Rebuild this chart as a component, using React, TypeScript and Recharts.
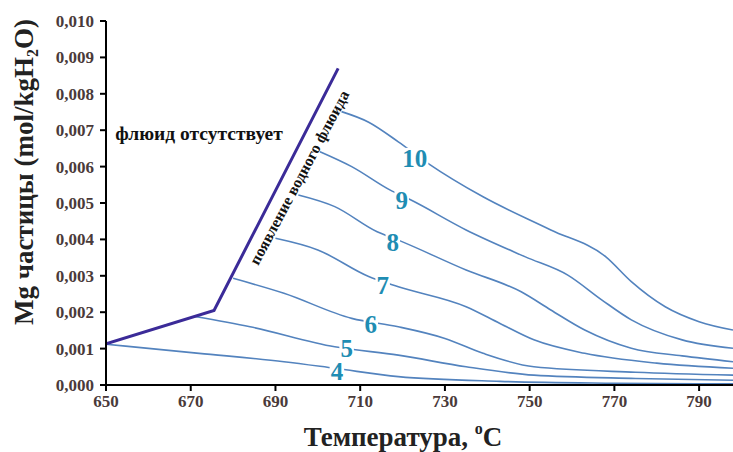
import React from 'react';
import { LineChart, Line, XAxis, YAxis, ReferenceDot } from 'recharts';

// boundary: fluid appears
const boundaryT = [650, 675.5, 704.8];
const boundaryV = [0.00113, 0.00205, 0.0087];

const curve4T = [650, 672, 692, 704, 719, 743, 770, 798];
const curve4V = [0.00112, 0.00087, 0.00064, 0.00046, 0.00023, 0.0001, 0.00005, 0.00003];
const curve5T = [671, 684, 704, 719, 735, 751, 775, 798];
const curve5V = [0.00188, 0.0016, 0.00105, 0.00082, 0.0005, 0.00027, 0.00018, 0.00013];
const curve6T = [680, 692, 708, 719, 730, 739, 751, 775, 798];
const curve6V = [0.00293, 0.00252, 0.00183, 0.0016, 0.00128, 0.00087, 0.0005, 0.00035, 0.00027];
const curve7T = [690, 700, 712, 719, 735, 743, 751, 763, 780, 798];
const curve7V = [0.00403, 0.00371, 0.00298, 0.0027, 0.00215, 0.00169, 0.00124, 0.00087, 0.0006, 0.00046];
const curve8T = [695.4, 704, 714, 719, 735, 748, 755, 763, 774, 786, 798];
const curve8V = [0.00522, 0.0049, 0.00421, 0.00398, 0.00316, 0.00256, 0.00206, 0.00151, 0.00101, 0.0008, 0.00064];
const curve9T = [700.5, 708, 717, 722, 735, 749, 759, 767, 774, 786, 798];
const curve9V = [0.00641, 0.006, 0.00536, 0.00508, 0.00426, 0.00352, 0.00302, 0.00234, 0.00179, 0.00124, 0.00101];
const curve10T = [705.6, 712, 719, 726, 739, 755, 768, 774, 782, 790, 798];
const curve10V = [0.00751, 0.00722, 0.00668, 0.00609, 0.00517, 0.00426, 0.00352, 0.00284, 0.00215, 0.00174, 0.00151];

const labelText = ['10', '9', '8', '7', '6', '5', '4'];
const labelT = [722.9, 719.8, 717.7, 715.3, 712.5, 706.8, 704.5];
const labelV = [0.00624, 0.00508, 0.00394, 0.00275, 0.00168, 0.00102, 0.00038];

const xTicks = [650, 670, 690, 710, 730, 750, 770, 790];
const yTicks = [0, 0.001, 0.002, 0.003, 0.004, 0.005, 0.006, 0.007, 0.008, 0.009, 0.01];

const zip = (t: number[], v: number[]) => t.map((x, i) => ({ t: x, v: v[i] }));

const curves = [
  zip(curve4T, curve4V),
  zip(curve5T, curve5V),
  zip(curve6T, curve6V),
  zip(curve7T, curve7V),
  zip(curve8T, curve8V),
  zip(curve9T, curve9V),
  zip(curve10T, curve10V),
];

const serif = '"Liberation Serif", "DejaVu Serif", serif';
const tickStyle = { fontFamily: serif, fontWeight: 700, fontSize: 17, fill: '#4a3a3a' };

export default function App() {
  return (
    <div style={{ position: 'absolute', left: 0, top: 0, width: 733, height: 452, background: '#fff' }}>
      <LineChart width={733} height={452} margin={{ top: 21, right: 0, bottom: 0, left: 0 }}>
        <XAxis
          type='number'
          dataKey='t'
          domain={[650, 798]}
          ticks={xTicks}
          allowDataOverflow
          height={67}
          tickSize={6}
          tickMargin={4}
          tick={tickStyle}
          axisLine={{ stroke: '#000', strokeWidth: 2 }}
          tickLine={{ stroke: '#000', strokeWidth: 2 }}
        />
        <YAxis
          type='number'
          dataKey='v'
          domain={[0, 0.01]}
          ticks={yTicks}
          width={106}
          tickSize={6}
          tickMargin={6}
          tick={tickStyle}
          tickFormatter={(v: number) => v.toFixed(3).replace('.', ',')}
          axisLine={{ stroke: '#000', strokeWidth: 2 }}
          tickLine={{ stroke: '#000', strokeWidth: 2 }}
        />
        {curves.map((d, i) => (
          <Line
            key={i}
            data={d}
            dataKey='v'
            type='monotone'
            stroke='#5383be'
            strokeWidth={1.6}
            dot={false}
            isAnimationActive={false}
          />
        ))}
        <Line
          data={zip(boundaryT, boundaryV)}
          dataKey='v'
          type='linear'
          stroke='#3b2b98'
          strokeWidth={3}
          dot={false}
          isAnimationActive={false}
        />
        {labelText.map((s, i) => (
          <ReferenceDot
            key={s}
            x={labelT[i]}
            y={labelV[i]}
            r={0}
            shape={(p: any) => (
              <g>
                <rect
                  x={p.cx - (s.length * 12.5) / 2 - 1}
                  y={p.cy - 10}
                  width={s.length * 12.5 + 2}
                  height={20}
                  fill='#fff'
                />
                <text
                  x={p.cx}
                  y={p.cy}
                  dy={9}
                  textAnchor='middle'
                  fontFamily={serif}
                  fontWeight={700}
                  fontSize={25}
                  fill='#1f8db3'
                >
                  {s}
                </text>
              </g>
            )}
          />
        ))}
      </LineChart>
      <svg
        width={733}
        height={452}
        style={{ position: 'absolute', left: 0, top: 0, pointerEvents: 'none' }}
      >
        <text
          x={199}
          y={140}
          textAnchor='middle'
          fontFamily={serif}
          fontWeight={700}
          fontSize={19.5}
          fill='#111'
        >
          флюид отсутствует
        </text>
        <text
          transform='translate(304,180) rotate(-62)'
          textAnchor='middle'
          fontFamily={serif}
          fontWeight={700}
          fontSize={15.8}
          fill='#111'
        >
          появление водного флюида
        </text>
        <text
          transform='translate(33,172) rotate(-90)'
          textAnchor='middle'
          fontFamily={serif}
          fontWeight={700}
          fontSize={27}
          fill='#222'
        >
          Mg частицы (mol/kgH
          <tspan fontSize={16} dy={5}>2</tspan>
          <tspan dy={-5}>O)</tspan>
        </text>
        <text
          x={403}
          y={446}
          textAnchor='middle'
          fontFamily={serif}
          fontWeight={700}
          fontSize={27}
          fill='#222'
        >
          Температура,{' '}
          <tspan fontSize={16} dy={-12}>o</tspan>
          <tspan dy={12}>C</tspan>
        </text>
      </svg>
    </div>
  );
}
